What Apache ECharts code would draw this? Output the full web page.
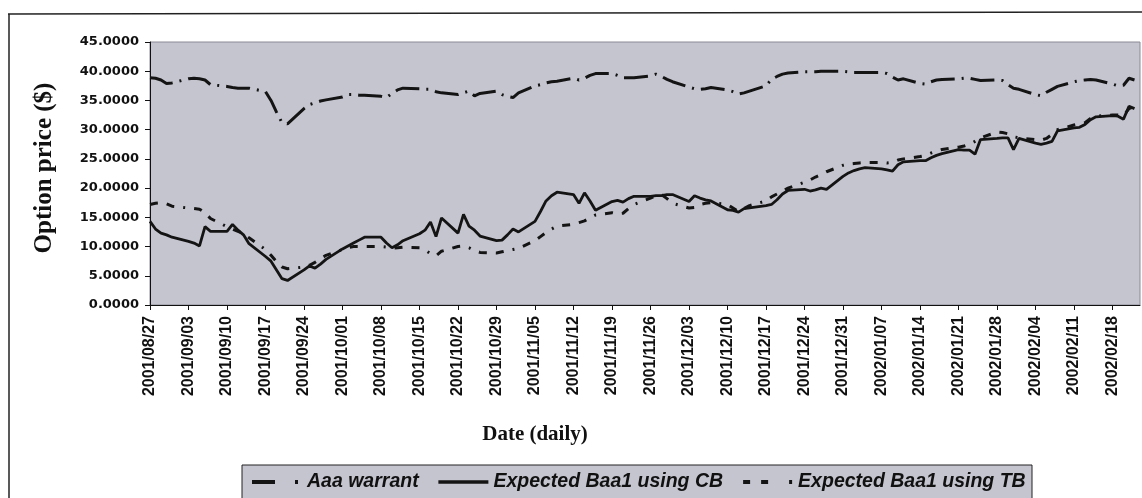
<!DOCTYPE html>
<html><head><meta charset="utf-8">
<script src="https://cdn.jsdelivr.net/npm/echarts@6/dist/echarts.min.js"></script>
<style>html,body{margin:0;padding:0;background:#fff}#c{width:1142px;height:498px}</style>
</head><body><div id="c"></div>
<script>
// ---- tick labels (Mondays) ----
const weekLabels = [
  '2001/08/27','2001/09/03','2001/09/10','2001/09/17','2001/09/24','2001/10/01','2001/10/08',
  '2001/10/15','2001/10/22','2001/10/29','2001/11/05','2001/11/12','2001/11/19','2001/11/26',
  '2001/12/03','2001/12/10','2001/12/17','2001/12/24','2001/12/31','2002/01/07','2002/01/14',
  '2002/01/21','2002/01/28','2002/02/04','2002/02/11','2002/02/18'
];
// ---- observation dates (weekdays) ----
const tradingDays = [
  '2001/08/27','2001/08/28','2001/08/29','2001/08/30','2001/08/31',
  '2001/09/03','2001/09/04','2001/09/05','2001/09/06','2001/09/07',
  '2001/09/10','2001/09/11','2001/09/12','2001/09/13','2001/09/14',
  '2001/09/17','2001/09/18','2001/09/19','2001/09/20','2001/09/21',
  '2001/09/24','2001/09/25','2001/09/26','2001/09/27','2001/09/28',
  '2001/10/01','2001/10/02','2001/10/03','2001/10/04','2001/10/05',
  '2001/10/08','2001/10/09','2001/10/10','2001/10/11','2001/10/12',
  '2001/10/15','2001/10/16','2001/10/17','2001/10/18','2001/10/19',
  '2001/10/22','2001/10/23','2001/10/24','2001/10/25','2001/10/26',
  '2001/10/29','2001/10/30','2001/10/31','2001/11/01','2001/11/02',
  '2001/11/05','2001/11/06','2001/11/07','2001/11/08','2001/11/09',
  '2001/11/12','2001/11/13','2001/11/14','2001/11/15','2001/11/16',
  '2001/11/19','2001/11/20','2001/11/21','2001/11/22','2001/11/23',
  '2001/11/26','2001/11/27','2001/11/28','2001/11/29','2001/11/30',
  '2001/12/03','2001/12/04','2001/12/05','2001/12/06','2001/12/07',
  '2001/12/10','2001/12/11','2001/12/12','2001/12/13','2001/12/14',
  '2001/12/17','2001/12/18','2001/12/19','2001/12/20','2001/12/21',
  '2001/12/24','2001/12/25','2001/12/26','2001/12/27','2001/12/28',
  '2001/12/31','2002/01/01','2002/01/02','2002/01/03','2002/01/04',
  '2002/01/07','2002/01/08','2002/01/09','2002/01/10','2002/01/11',
  '2002/01/14','2002/01/15','2002/01/16','2002/01/17','2002/01/18',
  '2002/01/21','2002/01/22','2002/01/23','2002/01/24','2002/01/25',
  '2002/01/28','2002/01/29','2002/01/30','2002/01/31','2002/02/01',
  '2002/02/04','2002/02/05','2002/02/06','2002/02/07','2002/02/08',
  '2002/02/11','2002/02/12','2002/02/13','2002/02/14','2002/02/15',
  '2002/02/18','2002/02/19','2002/02/20','2002/02/21','2002/02/22'
];
// ---- series values ----
const aaaWarrant = [
  38.9,38.8,38.5,37.9,38.0, 38.7,38.8,38.7,38.5,37.7, 37.4,37.2,37.1,37.1,37.1,
  36.5,35.0,33.0,31.2,31.0, 33.6,34.3,34.6,34.9,35.1, 35.6,36.0,36.0,35.9,35.9,
  35.7,35.5,36.2,36.8,37.1, 37.0,36.9,36.9,36.5,36.3, 36.0,36.3,36.6,35.8,36.2,
  36.6,36.0,35.7,35.5,36.3, 37.5,37.7,38.0,38.2,38.3, 38.8,38.5,38.8,39.3,39.6,
  39.6,39.3,38.9,38.9,38.9, 39.2,39.5,39.1,38.6,38.2, 37.3,37.0,36.9,37.0,37.2,
  36.8,36.5,36.1,36.3,36.6, 37.5,38.6,39.1,39.5,39.7, 39.9,39.9,39.9,40.0,40.0,
  40.0,39.9,39.8,39.8,39.8, 39.8,39.6,39.0,38.5,38.7, 37.9,37.8,38.2,38.5,38.6,
  38.7,38.8,38.8,38.6,38.4, 38.5,38.4,37.7,37.1,36.9, 36.0,35.8,36.4,36.9,37.4,
  38.2,38.4,38.5,38.6,38.5, 37.8,37.5,37.6,38.8,38.5
];
const baa1CB = [
  14.3,13.0,12.3,12.0,11.6, 10.9,10.6,10.1,13.4,12.6, 12.6,13.8,12.8,12.0,10.5,
  8.3,7.5,6.0,4.5,4.2, 6.0,6.7,6.3,7.0,7.8, 9.6,10.1,10.6,11.1,11.6,
  11.6,10.6,9.8,10.3,11.0, 12.2,12.8,14.2,11.7,14.9, 12.3,15.5,13.5,12.8,11.8,
  11.0,11.1,12.0,13.0,12.5, 14.3,16.0,17.8,18.7,19.3, 18.9,17.4,19.2,17.8,16.2,
  17.7,17.9,17.6,18.2,18.6, 18.6,18.7,18.7,18.9,18.9, 17.7,18.7,18.3,18.0,17.8,
  16.3,16.2,15.9,16.5,16.6, 17.0,17.2,18.0,19.0,19.6, 19.8,19.5,19.7,20.0,19.8,
  22.0,22.6,23.0,23.3,23.5, 23.3,23.1,22.9,24.0,24.5, 24.7,24.7,25.2,25.6,25.9,
  26.6,26.5,26.5,25.8,28.3, 28.5,28.6,28.6,26.6,28.5, 27.7,27.5,27.7,28.0,29.8,
  30.3,30.4,30.9,31.7,32.2, 32.4,32.3,31.8,34.0,33.6
];
const baa1TB = [
  17.2,17.4,17.5,17.3,16.9, 16.6,16.5,16.4,15.8,14.8, 13.4,13.0,12.6,12.2,11.5,
  9.5,8.5,7.4,6.5,6.2, 6.5,6.8,7.3,7.9,8.5, 9.5,9.8,10.0,10.0,10.0,
  10.0,9.9,9.7,9.8,9.9, 9.8,9.4,8.8,8.4,9.2, 10.0,10.1,9.8,9.3,9.0,
  8.9,9.1,9.3,9.5,9.7, 11.0,11.7,12.4,13.0,13.5, 13.8,14.1,14.4,14.9,15.4,
  15.8,15.6,15.7,16.5,17.2, 18.3,18.7,18.9,18.2,17.4, 16.6,16.7,17.2,17.4,17.5,
  17.2,16.6,16.0,16.5,17.0, 17.8,18.5,19.0,19.5,20.0, 21.0,21.4,21.9,22.3,22.8,
  23.9,24.1,24.2,24.3,24.4, 24.4,24.3,24.4,24.8,25.0, 25.4,25.6,26.0,26.3,26.6,
  27.0,27.2,27.5,28.0,28.6, 29.6,29.5,29.3,28.8,28.6, 28.3,28.2,28.5,29.2,30.0,
  30.8,31.0,31.2,31.9,32.3, 32.5,32.5,32.4,33.6,34.0
];
const seriesNames = ['Aaa warrant', 'Expected Baa1 using CB', 'Expected Baa1 using TB'];
const axisStart = '2001/08/27', axisEnd = '2002/02/23';

// calendar-day categories (date axis, like the original)
function pad(n){ return n < 10 ? '0' + n : '' + n; }
function parseD(s){ const p = s.split('/'); return Date.UTC(+p[0], +p[1] - 1, +p[2]); }
const calendarDays = [];
for (let t = parseD(axisStart); t <= parseD(axisEnd); t += 86400000) {
  const d = new Date(t);
  calendarDays.push(d.getUTCFullYear() + '/' + pad(d.getUTCMonth() + 1) + '/' + pad(d.getUTCDate()));
}
function pairs(vals){ return tradingDays.map((d, i) => [calendarDays.indexOf(d), vals[i]]); }
const isWeekLabel = (idx, val) => weekLabels.indexOf(val) >= 0;

const INK = '#141414';
const PLOT_BG = '#c5c5d0';

const chart = echarts.init(document.getElementById('c'), null, {renderer: 'canvas'});
chart.setOption({
  backgroundColor: '#ffffff',
  animation: false,
  grid: {left: 150, right: 2, top: 42, bottom: 193, show: true,
         backgroundColor: PLOT_BG, borderColor: '#8a8a95', borderWidth: 1},
  xAxis: {
    type: 'category', data: calendarDays, boundaryGap: false,
    axisLine: {lineStyle: {color: '#111', width: 1}},
    axisTick: {interval: isWeekLabel, length: 5, lineStyle: {color: '#111'}},
    axisLabel: {interval: isWeekLabel, rotate: 90, margin: 11,
      fontFamily: 'Liberation Sans', fontWeight: 'bold', fontSize: 16, color: '#111'},
    splitLine: {show: false}
  },
  yAxis: {
    type: 'value', min: 0, max: 45, interval: 5,
    axisLine: {show: true, lineStyle: {color: '#111'}},
    axisTick: {show: true, length: 5, lineStyle: {color: '#111'}},
    axisLabel: {formatter: v => v.toFixed(4), fontFamily: 'DejaVu Sans', fontWeight: 'bold',
      fontSize: 13, color: '#111', margin: 11},
    splitLine: {show: false}
  },
  legend: {
    left: 250, top: 472, padding: 0, itemWidth: 50, itemHeight: 14, itemGap: 18,
    itemStyle: {opacity: 0},
    textStyle: {fontFamily: 'Liberation Sans', fontWeight: 'bold', fontStyle: 'italic',
      fontSize: 19.5, color: '#111'},
    data: [
      {name: seriesNames[0], itemStyle: {opacity: 0}, lineStyle: {type: [23, 20, 3, 10], width: 4}},
      {name: seriesNames[1], itemStyle: {opacity: 0}, lineStyle: {width: 3.5}},
      {name: seriesNames[2], itemStyle: {opacity: 0}, lineStyle: {type: [7, 11, 7, 21, 3, 20], width: 4}}
    ]
  },
  graphic: [
    {type: 'line', shape: {x1: 8, y1: 14, x2: 1142, y2: 12}, style: {stroke: '#222', lineWidth: 1.5}, silent: true},
    {type: 'line', shape: {x1: 9, y1: 14, x2: 9, y2: 498}, style: {stroke: '#222', lineWidth: 1.5}, silent: true},
    {type: 'rect', shape: {x: 242, y: 465, width: 790, height: 50},
      style: {fill: PLOT_BG, stroke: '#222', lineWidth: 1}, z: -1, silent: true},
    {type: 'text', x: 45, y: 168, rotation: Math.PI / 2,
      style: {text: 'Option price ($)', font: 'bold 25px "Liberation Serif"', fill: '#111',
        align: 'center', verticalAlign: 'middle', textAlign: 'center', textVerticalAlign: 'middle'}},
    {type: 'text', x: 535, y: 435,
      style: {text: 'Date (daily)', font: 'bold 21px "Liberation Serif"', fill: '#111',
        align: 'center', verticalAlign: 'middle', textAlign: 'center', textVerticalAlign: 'middle'}}
  ],
  series: [
    {name: seriesNames[0], type: 'line', data: pairs(aaaWarrant), symbol: 'none',
      itemStyle: {color: INK}, lineStyle: {color: INK, width: 3, type: [24, 7, 2, 7], cap: 'butt'}},
    {name: seriesNames[1], type: 'line', data: pairs(baa1CB), symbol: 'none',
      itemStyle: {color: INK}, lineStyle: {color: INK, width: 2.8, type: 'solid'}},
    {name: seriesNames[2], type: 'line', data: pairs(baa1TB), symbol: 'none',
      itemStyle: {color: INK}, lineStyle: {color: INK, width: 3, type: [8, 9, 8, 9, 2, 9], cap: 'butt'}}
  ]
});
</script>
</body></html>
